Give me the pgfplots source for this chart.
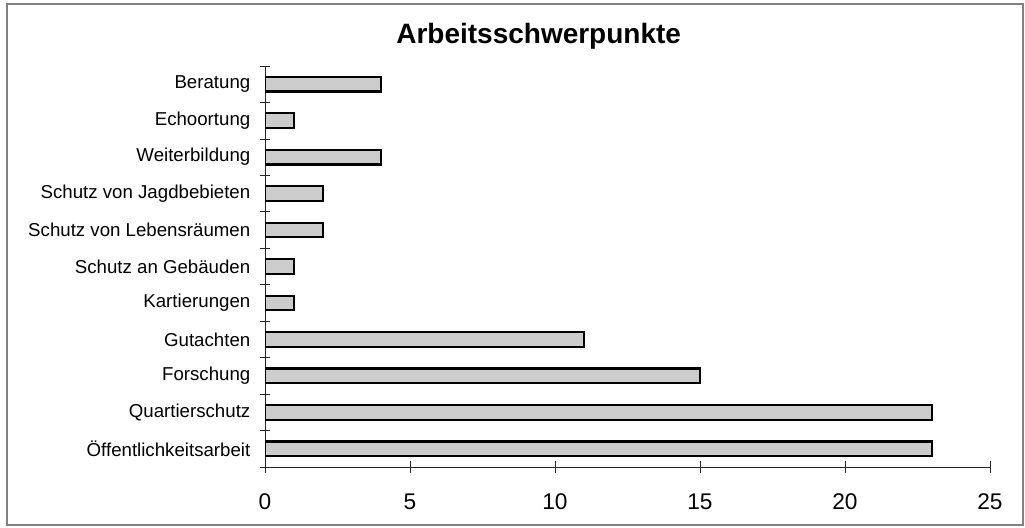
\documentclass[border=0pt]{standalone}
\usepackage{pgfplots}
\pgfplotsset{compat=1.18}
\usepackage{fontspec}
\setmainfont{Liberation Sans}

\begin{document}
\begin{tikzpicture}
  % picture = 1025 x 528 px, 1px = 0.75pt, origin top left
  \useasboundingbox (0,0) rectangle (768.75pt,-396pt);
  \draw[black!50, line width=1.5pt] (5.25pt,-3pt) rectangle (767.25pt,-393.75pt);
  \node[font=\fontsize{21}{25}\selectfont\bfseries] at (404pt,-27pt) {Arbeitsschwerpunkte};

	\begin{axis}[
    at={(198.75pt,-350.25pt)}, anchor=south west,
    scale only axis,
    width=543.75pt, height=300.75pt,
    xbar, bar width=11pt,
    xmin=0, xmax=25,
    ymin=-0.5, ymax=10.5,
    axis lines=left,
    axis line style={-, black!85, line width=0.6pt},
    xtick={0,5,...,25},
    ytick={0,...,10},
    yticklabels={Öffentlichkeitsarbeit, Quartierschutz, Forschung, Gutachten,
      Kartierungen, Schutz an Gebäuden, Schutz von Lebensräumen,
      Schutz von Jagdbebieten, Weiterbildung, Echoortung, Beratung},
    minor ytick={-0.5,0.5,...,10.5},
    major y tick style={draw=none},
    minor y tick style={black!85, line width=0.5pt},
    major x tick style={black!85, line width=0.6pt},
    tick align=center,
    major tick length=9pt,
    minor tick length=7pt,
    /pgf/number format/assume math mode=true,
    xticklabel style={font=\fontsize{17}{20}\selectfont, yshift=-12pt},
    yticklabel style={font=\fontsize{14}{16}\selectfont, xshift=-3pt},
    ]
	\addplot[fill=black!20, draw=black, line width=1.6pt] coordinates {
    (23,0)
    (23,1)
    (15,2)
    (11,3)
    (1,4)
    (1,5)
    (2,6)
    (2,7)
    (4,8)
    (1,9)
    (4,10)
	};
	\end{axis}
\end{tikzpicture}
\end{document}
